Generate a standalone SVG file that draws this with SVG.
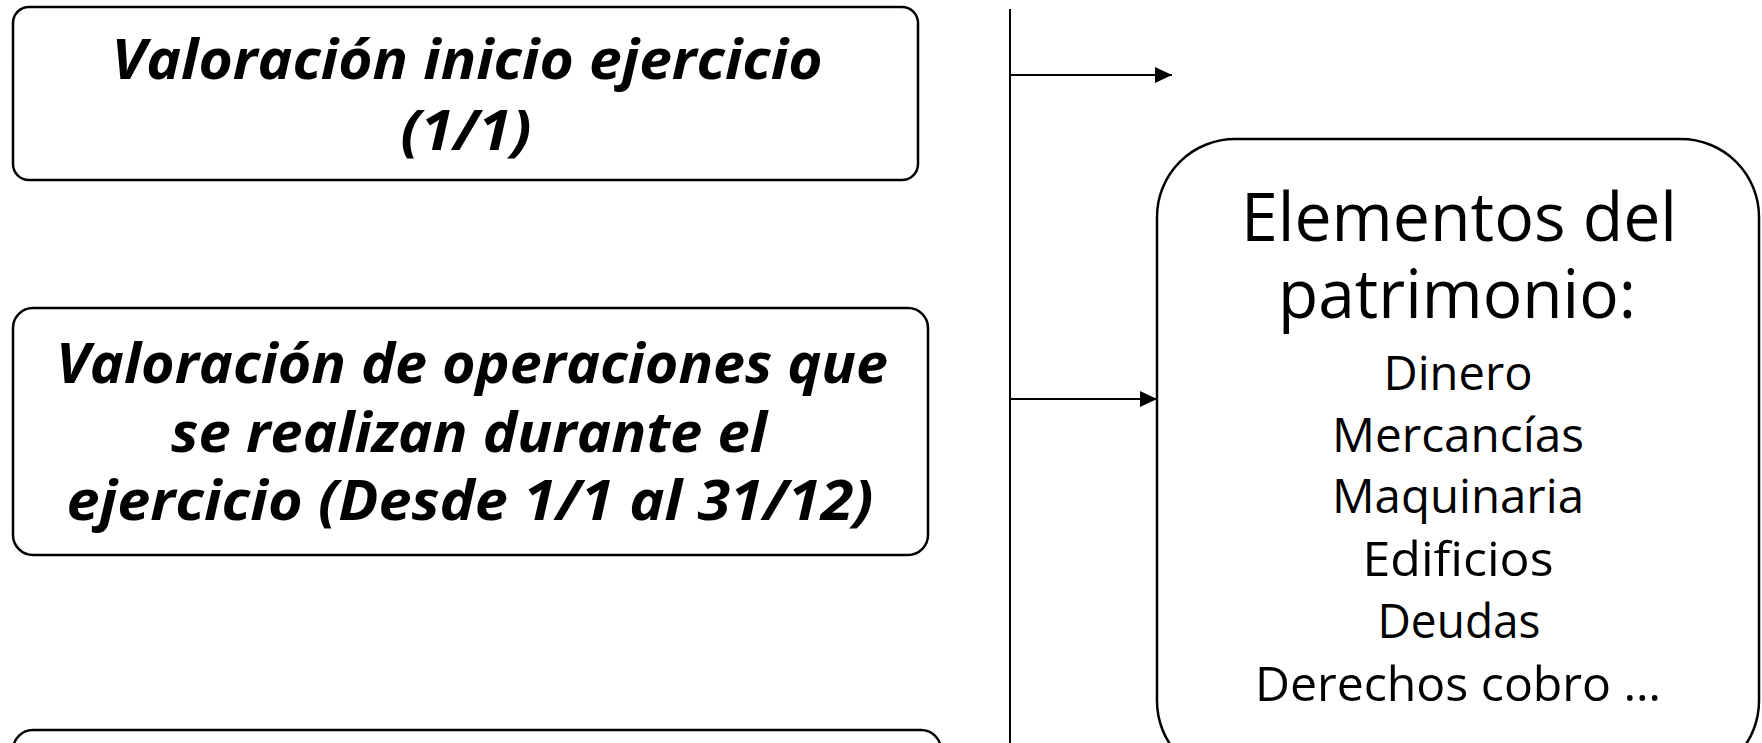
<svg xmlns="http://www.w3.org/2000/svg" width="1762" height="743" viewBox="0 0 1762 743">
<defs>
<style>
.box{fill:#fff;stroke:#000;stroke-width:2.5}
.ti{font-family:"Open Sans","Noto Sans","DejaVu Sans",sans-serif;font-style:italic;font-weight:700;font-size:56px;fill:#000;text-anchor:middle}
.big{font-family:"Open Sans","Noto Sans","DejaVu Sans",sans-serif;font-size:67px;fill:#000;text-anchor:middle}
.sm{font-family:"Open Sans","Noto Sans","DejaVu Sans",sans-serif;font-size:48px;fill:#000;text-anchor:middle}
.conn{stroke:#000;stroke-width:2;fill:none}
</style>
<marker id="arr" viewBox="0 0 17 16" refX="17" refY="8" markerWidth="17" markerHeight="16" markerUnits="userSpaceOnUse" orient="auto">
<path d="M0,0 L17,8 L0,16 Z" fill="#000"/>
</marker>
</defs>
<rect width="1762" height="743" fill="#fff"/>
<g id="n1">
<rect class="box" x="13" y="7" width="905" height="173" rx="16"/>
<text class="ti" x="467" y="79" textLength="711" lengthAdjust="spacingAndGlyphs">Valoración inicio ejercicio</text>
<text class="ti" x="466" y="150" textLength="131" lengthAdjust="spacingAndGlyphs">(1/1)</text>
</g>
<g id="n2">
<rect class="box" x="13" y="308" width="915" height="247" rx="20"/>
<text class="ti" x="472" y="383" textLength="832" lengthAdjust="spacingAndGlyphs">Valoración de operaciones que</text>
<text class="ti" x="469" y="452" textLength="596" lengthAdjust="spacingAndGlyphs">se realizan durante el</text>
<text class="ti" x="470" y="520" textLength="807" lengthAdjust="spacingAndGlyphs">ejercicio (Desde 1/1 al 31/12)</text>
</g>
<g id="n3">
<rect class="box" x="13" y="730" width="928" height="60" rx="20"/>
</g>
<g id="n4">
<rect class="box" x="1157" y="139" width="602" height="640" rx="78"/>
<text class="big" x="1459" y="241" textLength="436" lengthAdjust="spacingAndGlyphs">Elementos del</text>
<text class="big" x="1457" y="318" textLength="358" lengthAdjust="spacingAndGlyphs">patrimonio:</text>
<text class="sm" x="1458" y="390" textLength="149" lengthAdjust="spacingAndGlyphs">Dinero</text>
<text class="sm" x="1458" y="452" textLength="252" lengthAdjust="spacingAndGlyphs">Mercancías</text>
<text class="sm" x="1458" y="513" textLength="252" lengthAdjust="spacingAndGlyphs">Maquinaria</text>
<text class="sm" x="1458" y="576" textLength="191" lengthAdjust="spacingAndGlyphs">Edificios</text>
<text class="sm" x="1459" y="638" textLength="163" lengthAdjust="spacingAndGlyphs">Deudas</text>
<text class="sm" x="1458" y="701" textLength="406" lengthAdjust="spacingAndGlyphs">Derechos cobro …</text>
</g>
<g id="connectors">
<line class="conn" x1="1010" y1="9" x2="1010" y2="743"/>
<line class="conn" x1="1010" y1="75" x2="1172" y2="75" marker-end="url(#arr)"/>
<line class="conn" x1="1010" y1="399" x2="1157" y2="399" marker-end="url(#arr)"/>
</g>
</svg>
